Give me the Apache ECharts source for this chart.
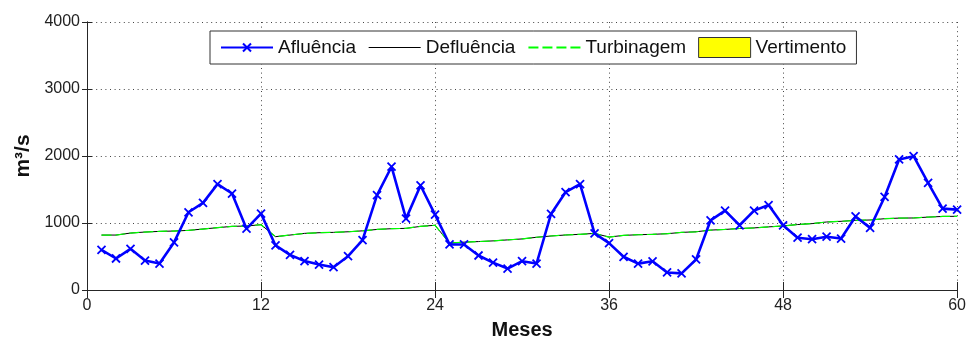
<!DOCTYPE html>
<html>
<head>
<meta charset="utf-8">
<script src="https://cdn.jsdelivr.net/npm/echarts@6/dist/echarts.min.js"></script>
<style>
  html, body { margin: 0; padding: 0; background: #fff; }
  #chart { width: 969px; height: 345px; }
</style>
</head>
<body>
<div id="chart"></div>
<script>
// Months of the simulation horizon
const meses = [1,2,3,4,5,6,7,8,9,10,11,12,13,14,15,16,17,18,19,20,21,22,23,24,25,26,27,28,29,30,
  31,32,33,34,35,36,37,38,39,40,41,42,43,44,45,46,47,48,49,50,51,52,53,54,55,56,57,58,59,60];

// Monthly inflow (m3/s)
const afluencia = [600,470,615,440,395,710,1160,1300,1580,1440,915,1140,
  665,525,432,380,340,505,745,1415,1840,1065,1560,1125,
  680,680,515,408,320,430,395,1135,1460,1580,845,700,
  496,394,428,262,248,456,1040,1185,966,1185,1268,966,
  781,758,796,768,1098,927,1389,1948,1997,1598,1215,1200];

// Turbined flow (m3/s)
const turbinagem = [820,820,850,865,875,880,890,910,930,950,955,975,
  796,820,845,855,860,869,883,904,915,920,950,966,
  700,714,723,733,748,762,787,806,821,831,845,790,
  815,825,831,840,860,869,894,904,918,927,942,956,
  977,991,1015,1025,1039,1045,1064,1073,1075,1088,1098,1100];

// Total outflow (m3/s): equal to turbined flow, no spill
const defluencia = [820,820,850,865,875,880,890,910,930,950,955,975,
  796,820,845,855,860,869,883,904,915,920,950,966,
  700,714,723,733,748,762,787,806,821,831,845,790,
  815,825,831,840,860,869,894,904,918,927,942,956,
  977,991,1015,1025,1039,1045,1064,1073,1075,1088,1098,1100];

// Spilled flow (m3/s)
const vertimento = [0,0,0,0,0,0,0,0,0,0,0,0,0,0,0,0,0,0,0,0,0,0,0,0,0,0,0,0,0,0,
  0,0,0,0,0,0,0,0,0,0,0,0,0,0,0,0,0,0,0,0,0,0,0,0,0,0,0,0,0,0];

const xTicks = { min: 0, max: 60, interval: 12 };
const yTicks = { min: 0, max: 4000, interval: 1000 };

const pair = arr => meses.map((m, i) => [m, arr[i]]);

const chart = echarts.init(document.getElementById('chart'), null, { renderer: 'canvas' });

const axisColor = '#262626';
const gridLine = { show: true, lineStyle: { color: '#444', width: 1, type: [1, 3.6] } };
const plainNumber = v => String(v);
// "x" marker padded inside a larger box so it keeps the same size in the legend
const crossMarker = 'path://M-5,-5M15,15M0,0L10,10M10,0L0,10';

chart.setOption({
  animation: false,
  backgroundColor: '#fff',
  textStyle: { fontFamily: 'Liberation Sans, Arial, sans-serif' },
  grid: { left: 87, right: 7, top: 22, bottom: 49 },
  legend: {
    left: 210, top: 31,
    padding: [6, 10, 6, 10],
    borderColor: '#333', borderWidth: 1, backgroundColor: '#fff',
    itemWidth: 52, itemHeight: 20, itemGap: 12,
    textStyle: { fontSize: 19, color: '#111', fontFamily: 'Liberation Sans' },
    data: [
      { name: 'Afluência' },
      { name: 'Defluência', itemStyle: { opacity: 0 }, lineStyle: { width: 1, color: '#000' } },
      { name: 'Turbinagem', itemStyle: { opacity: 0 } },
      { name: 'Vertimento', icon: 'rect',
        itemStyle: { color: '#ffff00', borderColor: '#333', borderWidth: 1 } }
    ]
  },
  xAxis: [{
    type: 'value', min: xTicks.min, max: xTicks.max, interval: xTicks.interval,
    name: 'Meses', nameLocation: 'middle', nameGap: 30,
    nameTextStyle: { fontSize: 20, fontWeight: 'bold', color: '#111', fontFamily: 'Liberation Sans' },
    axisLine: { show: true, onZero: false, lineStyle: { color: axisColor, width: 1 } },
    axisTick: { show: true, inside: true, length: 8, lineStyle: { color: axisColor } },
    axisLabel: { fontSize: 16, color: '#222', margin: 8, fontFamily: 'Liberation Sans', formatter: plainNumber },
    splitLine: gridLine
  }, {
    type: 'value', position: 'top', min: xTicks.min, max: xTicks.max, interval: xTicks.interval,
    axisLine: { show: true, lineStyle: { color: axisColor, width: 1 } },
    axisTick: { show: true, inside: true, length: 8, lineStyle: { color: axisColor } },
    axisLabel: { show: false }, splitLine: { show: false }
  }],
  yAxis: [{
    type: 'value', min: yTicks.min, max: yTicks.max, interval: yTicks.interval,
    name: 'm³/s', nameLocation: 'middle', nameGap: 42, nameRotate: 90,
    nameTextStyle: { fontSize: 21, fontWeight: 'bold', color: '#111', fontFamily: 'Liberation Sans' },
    axisLine: { show: true, onZero: false, lineStyle: { color: axisColor, width: 1 } },
    axisTick: { show: true, inside: true, length: 5, lineStyle: { color: axisColor } },
    axisLabel: { fontSize: 16, color: '#222', margin: 7, fontFamily: 'Liberation Sans', formatter: plainNumber },
    splitLine: gridLine
  }, {
    type: 'value', position: 'right', min: yTicks.min, max: yTicks.max, interval: yTicks.interval,
    axisLine: { show: true, lineStyle: { color: axisColor, width: 1 } },
    axisTick: { show: true, inside: true, length: 5, lineStyle: { color: axisColor } },
    axisLabel: { show: false }, splitLine: { show: false }
  }],
  series: [
    {
      name: 'Afluência', type: 'line', data: pair(afluencia), z: 5,
      symbol: crossMarker, symbolSize: 16, showSymbol: true,
      lineStyle: { color: '#0000ff', width: 2.6 },
      itemStyle: { color: '#0000ff', borderColor: '#0000ff', borderWidth: 1.8 }
    },
    {
      name: 'Defluência', type: 'line', data: pair(defluencia), z: 3,
      symbol: 'none', lineStyle: { color: '#000', width: 1 },
      itemStyle: { color: '#000' }
    },
    {
      name: 'Turbinagem', type: 'line', data: pair(turbinagem), z: 4,
      symbol: 'none', lineStyle: { color: '#00ff00', width: 1.2, type: [10, 4] },
      itemStyle: { color: '#00ff00' }
    },
    {
      name: 'Vertimento', type: 'line', data: pair(vertimento), z: 2,
      symbol: 'none', lineStyle: { width: 0, color: '#ffff00' },
      areaStyle: { color: '#ffff00', opacity: 1 },
      itemStyle: { color: '#ffff00' }
    }
  ]
});
</script>
</body>
</html>
